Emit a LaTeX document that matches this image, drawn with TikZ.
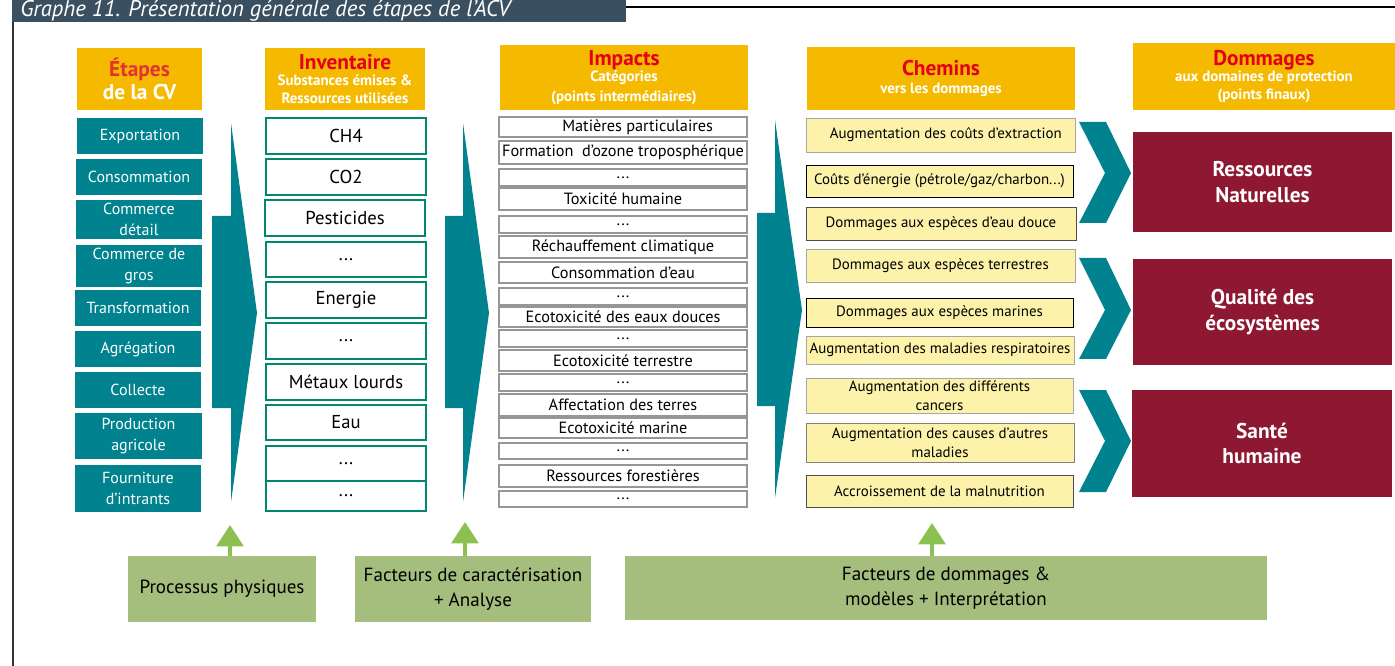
\documentclass[tikz,border=0pt]{standalone}
\usepackage{fontspec}
\setmainfont{PT Sans}
\usetikzlibrary{arrows.meta}
\definecolor{tealc}{RGB}{0,131,143}
\definecolor{hdry}{RGB}{245,186,0}
\definecolor{redh}{RGB}{226,0,26}
\definecolor{redet}{RGB}{226,50,50}
\definecolor{crim}{RGB}{142,24,50}
\definecolor{lyel}{RGB}{253,242,170}
\definecolor{gbox}{RGB}{165,190,126}
\definecolor{garr}{RGB}{140,193,82}
\definecolor{titlec}{RGB}{58,80,96}
\definecolor{invb}{RGB}{0,135,110}
\definecolor{impb}{RGB}{150,150,150}
\newcommand\mybox[7]{\node[#2,inner sep=0pt,outer sep=0pt,minimum width={(#5-(#3))*0.75pt},minimum height={(#6-(#4))*0.75pt}] (#1) at ({(#3+#5)/2},{(#4+#6)/2}) {#7};}
\tikzset{
  hdr/.style={fill=hdry,align=center,text=white,font={\bfseries\fontsize{11.2}{13.5}\selectfont}},
  tealbox/.style={fill=tealc,text=white,align=center,font={\fontsize{12}{16}\selectfont}},
  invbox/.style={draw=invb,line width=1pt,fill=white,align=center,font={\fontsize{14}{16}\selectfont}},
  impbox/.style={draw=impb,line width=0.8pt,fill=white,align=center,font={\fontsize{12.2}{13}\selectfont}},
  chembox/.style={draw=black!70,line width=0.7pt,fill=lyel,align=center,font={\fontsize{11.2}{14.5}\selectfont}},
  dombox/.style={fill=crim,text=white,align=center,font={\bfseries\fontsize{16}{19}\selectfont}},
  grbox/.style={fill=gbox,align=center,font={\fontsize{14.3}{19}\selectfont}},
  bigarrow/.style={fill=tealc},
  garrow/.style={draw=garr,line width=3pt,-{Triangle[length=16pt,width=20pt]}}
}
\begin{document}
\begin{tikzpicture}[x=0.75pt,y=-0.75pt]
\useasboundingbox (0,0) rectangle (1395,666);
% title
\fill[titlec] (12,-2) rectangle (626,22);
\node[anchor=base west,text=white,font={\itshape\fontsize{17}{20}\selectfont},inner sep=0pt] (title) at (20,17) {Graphe 11. Présentation générale des étapes de l'ACV};
\draw[line width=1.2pt] (626,7) -- (1395,7);
\draw[line width=0.8pt,black!80] (13,22) -- (13,666);
% headers
\mybox{h1}{hdr}{77}{48}{202}{110}{{\fontsize{16}{19}\selectfont\color{redet}Étapes}\\[2pt]{\fontsize{16}{19}\selectfont de la CV}}
\mybox{h2}{hdr}{265}{48}{425}{110}{{\fontsize{16}{15}\selectfont\color{redh}Inventaire}\\[-1pt]Substances émises \&\\Ressources utilisées}
\mybox{h3}{hdr}{500}{45}{748}{110}{{\fontsize{16}{15}\selectfont\color{redh}Impacts}\\[-1pt]Catégories\\[1pt](points intermédiaires)}
\mybox{h4}{hdr}{807}{47}{1075}{110}{{\fontsize{16}{15}\selectfont\color{redh}Chemins}\\[0pt]vers les dommages}
\mybox{h5}{hdr}{1133}{43}{1395}{110}{{\fontsize{16}{15}\selectfont\color{redh}Dommages}\\[-1pt]aux domaines de protection\\(points finaux)}
% etapes
\mybox{e1}{tealbox}{77}{118}{203}{154}{Exportation}
\mybox{e2}{tealbox}{76}{159}{202}{195}{Consommation}
\mybox{e3}{tealbox}{76}{200}{202}{239}{Commerce\\détail}
\mybox{e4}{tealbox}{76}{245}{202}{287}{Commerce de\\gros}
\mybox{e5}{tealbox}{75}{290}{201}{326}{Transformation}
\mybox{e6}{tealbox}{75}{331}{201}{367}{Agrégation}
\mybox{e7}{tealbox}{75}{372}{201}{408}{Collecte}
\mybox{e8}{tealbox}{75}{413}{202}{459}{Production\\agricole}
\mybox{e9}{tealbox}{75}{465}{201}{512}{Fourniture\\d’intrants}
% big arrows
\fill[bigarrow] (231,123) -- (257,313) -- (231,502) -- (231,408) -- (212,408) -- (212,216) -- (231,216) -- cycle;
\fill[bigarrow] (463,123) -- (489,313) -- (463,502) -- (463,408) -- (445,408) -- (445,216) -- (463,216) -- cycle;
\fill[bigarrow] (775,120) -- (802,310) -- (775,498) -- (775,406) -- (757,406) -- (757,213) -- (775,213) -- cycle;
% inventaire
\mybox{i1}{invbox}{266}{118}{426}{154}{CH4}
\mybox{i2}{invbox}{266}{159}{426}{195}{CO2}
\mybox{i3}{invbox}{265}{200}{425}{236}{Pesticides}
\mybox{i4}{invbox}{266}{242}{426}{277}{...}
\mybox{i5}{invbox}{266}{282}{426}{318}{Energie}
\mybox{i6}{invbox}{266}{323}{426}{359}{...}
\mybox{i7}{invbox}{266}{364}{426}{400}{Métaux lourds}
\mybox{i8}{invbox}{266}{405}{426}{440}{Eau}
\mybox{i9}{invbox}{266}{446}{426}{481}{...}
\mybox{i10}{invbox}{266}{481}{426}{511}{...}
% impacts
\mybox{m1}{impbox}{499}{117}{747}{137}{\hspace*{22pt}Matières particulaires}
\mybox{m2}{impbox}{499}{141}{747}{164}{Formation\ \ d’ozone troposphérique}
\mybox{m3}{impbox}{499}{169}{747}{186}{...}
\mybox{m4}{impbox}{499}{188}{747}{210}{Toxicité humaine}
\mybox{m5}{impbox}{499}{216}{747}{233}{...}
\mybox{m6}{impbox}{499}{236}{747}{258}{Réchauffement climatique}
\mybox{m7}{impbox}{499}{262}{747}{283}{Consommation d’eau}
\mybox{m8}{impbox}{499}{288}{747}{305}{...}
\mybox{m9}{impbox}{499}{307}{747}{327}{Ecotoxicité des eaux douces}
\mybox{m10}{impbox}{499}{330}{747}{347}{...}
\mybox{m11}{impbox}{499}{350}{747}{371}{Ecotoxicité terrestre}
\mybox{m12}{impbox}{499}{374}{747}{391}{...}
\mybox{m13}{impbox}{499}{394}{747}{416}{Affectation des terres}
\mybox{m14}{impbox}{499}{418}{747}{438}{Ecotoxicité marine}
\mybox{m15}{impbox}{499}{443}{747}{459}{...}
\mybox{m16}{impbox}{499}{465}{747}{487}{Ressources forestières}
\mybox{m17}{impbox}{499}{491}{747}{507}{...}
% chemins
\mybox{c1}{chembox,draw=black!35}{806}{118}{1075}{152}{\hspace*{8pt}Augmentation des coûts d’extraction}
\mybox{c2}{chembox,draw=black}{806}{165}{1073}{197}{Coûts d’énergie (pétrole/gaz/charbon...)}
\mybox{c3}{chembox}{806}{207}{1076}{240}{Dommages aux espèces d’eau douce}
\mybox{c4}{chembox,draw=black!35}{806}{249}{1075}{282}{Dommages aux espèces terrestres}
\mybox{c5}{chembox,draw=black}{806}{298}{1073}{327}{Dommages aux espèces marines}
\mybox{c6}{chembox,draw=black!35}{806}{336}{1074}{364}{Augmentation des maladies respiratoires}
\mybox{c7}{chembox,draw=black!35}{806}{378}{1073}{413}{Augmentation des différents\\cancers}
\mybox{c8}{chembox,draw=black!50}{806}{423}{1074}{462}{Augmentation des causes d’autres\\maladies}
\mybox{c9}{chembox}{806}{475}{1073}{507}{Accroissement de la malnutrition}
% chevrons
\fill[bigarrow] (1079,122) -- (1106,122) -- (1131,173) -- (1106,223) -- (1079,223) -- (1105,173) -- cycle;
\fill[bigarrow] (1079,258) -- (1106,258) -- (1131,310) -- (1106,359) -- (1079,359) -- (1105,310) -- cycle;
\fill[bigarrow] (1079,390) -- (1106,390) -- (1131,441) -- (1106,492) -- (1079,492) -- (1105,441) -- cycle;
% dommages
\mybox{d1}{dombox}{1133}{132}{1392}{232}{Ressources\\Naturelles}
\mybox{d2}{dombox}{1133}{259}{1392}{365}{Qualité des\\écosystèmes}
\mybox{d3}{dombox}{1132}{390}{1392}{497}{Santé\\humaine}
% bottom
\mybox{g1}{grbox}{128}{556}{316}{622}{Processus physiques}
\mybox{g2}{grbox}{355}{556}{591}{622}{Facteurs de caractérisation\\+ Analyse}
\mybox{g3}{grbox}{625}{556}{1267}{620}{Facteurs de dommages \&\\modèles + Interprétation}
\draw[garrow] ([xshift=6pt]g1.north) -- ++(0,-31);
\draw[garrow] ([xshift=-6pt]g2.north) -- ++(0,-34);
\draw[garrow] ([xshift=-10.5pt]g3.north) -- ++(0,-33);
\end{tikzpicture}
\end{document}
